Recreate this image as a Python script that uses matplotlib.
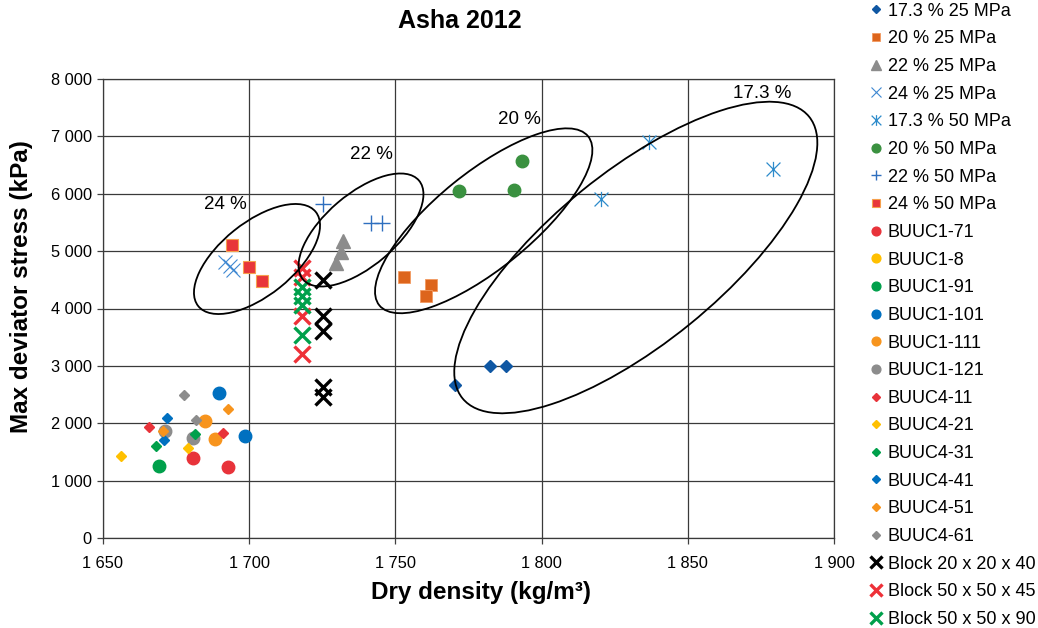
import matplotlib
matplotlib.use('Agg')
import matplotlib.pyplot as plt
from matplotlib.patches import Ellipse
from matplotlib.transforms import ScaledTranslation
from matplotlib.path import Path
from matplotlib.markers import MarkerStyle
from matplotlib.ticker import FuncFormatter

plt.rcParams['font.family'] = ['Liberation Sans', 'DejaVu Sans']

# ---------------- data ----------------
x_173_25 = [1770.4, 1782.5, 1787.8]
y_173_25 = [2658, 2990, 2990]
x_20_25 = [1752.8, 1762.1, 1760.4]
y_20_25 = [4550, 4410, 4223]
x_22_25 = [1732.2, 1731.3, 1729.7]
y_22_25 = [5171, 4979, 4794]
x_24_25 = [1691.6, 1693.5, 1694.6]
y_24_25 = [4818, 4735, 4665]
x_173_50 = [1836.6, 1820.3, 1879.2]
y_173_50 = [6899, 5916, 6440]
x_20_50 = [1793.4, 1771.6, 1790.6]
y_20_50 = [6579, 6044, 6068]
x_22_50 = [1725.1, 1741.7, 1745.4]
y_22_50 = [5824, 5492, 5492]
x_24_50 = [1694.1, 1699.8, 1704.5]
y_24_50 = [5113, 4717, 4485]

x_buuc1_71 = [1680.8, 1692.9]
y_buuc1_71 = [1399, 1232]
x_buuc1_8 = []
y_buuc1_8 = []
x_buuc1_91 = [1669.0]
y_buuc1_91 = [1254]
x_buuc1_101 = [1689.8, 1698.4]
y_buuc1_101 = [2521, 1782]
x_buuc1_111 = [1685.0, 1688.4]
y_buuc1_111 = [2038, 1719]
x_buuc1_121 = [1671.3, 1680.8]
y_buuc1_121 = [1864, 1737]
x_buuc4_11 = [1665.9, 1690.9]
y_buuc4_11 = [1940, 1824]
x_buuc4_21 = [1656.1, 1679.0]
y_buuc4_21 = [1434, 1573]
x_buuc4_31 = [1668.1, 1681.5]
y_buuc4_31 = [1608, 1807]
x_buuc4_41 = [1671.9, 1670.7]
y_buuc4_41 = [2085, 1707]
x_buuc4_51 = [1692.9, 1670.4]
y_buuc4_51 = [2247, 1864]
x_buuc4_61 = [1677.8, 1681.8]
y_buuc4_61 = [2491, 2056]

x_block_20 = [1725.1, 1725.1, 1725.1, 1725.1, 1725.1]
y_block_20 = [4503, 3862, 3600, 2640, 2466]
x_block_45 = [1718.1, 1718.1, 1718.1, 1718.1]
y_block_45 = [4712, 4555, 3874, 3211]
x_block_90 = [1718.1, 1718.1, 1718.1, 1718.1]
y_block_90 = [4380, 4223, 4066, 3543]

series_labels = ['17.3 % 25 MPa', '20 % 25 MPa', '22 % 25 MPa', '24 % 25 MPa',
                 '17.3 % 50 MPa', '20 % 50 MPa', '22 % 50 MPa', '24 % 50 MPa',
                 'BUUC1-71', 'BUUC1-8', 'BUUC1-91', 'BUUC1-101', 'BUUC1-111', 'BUUC1-121',
                 'BUUC4-11', 'BUUC4-21', 'BUUC4-31', 'BUUC4-41', 'BUUC4-51', 'BUUC4-61',
                 'Block 20 x 20 x 40', 'Block 50 x 50 x 45', 'Block 50 x 50 x 90']
series_x = [x_173_25, x_20_25, x_22_25, x_24_25, x_173_50, x_20_50, x_22_50, x_24_50,
            x_buuc1_71, x_buuc1_8, x_buuc1_91, x_buuc1_101, x_buuc1_111, x_buuc1_121,
            x_buuc4_11, x_buuc4_21, x_buuc4_31, x_buuc4_41, x_buuc4_51, x_buuc4_61,
            x_block_20, x_block_45, x_block_90]
series_y = [y_173_25, y_20_25, y_22_25, y_24_25, y_173_50, y_20_50, y_22_50, y_24_50,
            y_buuc1_71, y_buuc1_8, y_buuc1_91, y_buuc1_101, y_buuc1_111, y_buuc1_121,
            y_buuc4_11, y_buuc4_21, y_buuc4_31, y_buuc4_41, y_buuc4_51, y_buuc4_61,
            y_block_20, y_block_45, y_block_90]

ellipse_labels = ['24 %', '22 %', '20 %', '17.3 %']
x_ticks = [1650, 1700, 1750, 1800, 1850, 1900]
y_ticks = [0, 1000, 2000, 3000, 4000, 5000, 6000, 7000, 8000]

# ---------------- styles ----------------
star = MarkerStyle(Path([(-0.5, -0.5), (0.5, 0.5), (-0.5, 0.5), (0.5, -0.5), (0, -0.55), (0, 0.55)],
                        [Path.MOVETO, Path.LINETO, Path.MOVETO, Path.LINETO, Path.MOVETO, Path.LINETO]))

RED, YEL, GRN, BLU, ORG, GRY = '#E8333A', '#FFC000', '#00A04B', '#0070C0', '#F7941D', '#8C8C8C'
styles = [
    dict(marker='D', ms=6.2, mfc='#0F57A3', mec='#0F57A3'),
    dict(marker='s', ms=8.3, mfc='#DD651C', mec='#F29A60', mew=0.6),
    dict(marker='^', ms=9.5, mfc='#8C8C8C', mec='#8C8C8C'),
    dict(marker='x', ms=10, mec='#3F88D2', mew=0.8),
    dict(marker=star, ms=11, mec='#2D8BCB', mew=0.9),
    dict(marker='o', ms=9, mfc='#3A9140', mec='#3A9140'),
    dict(marker='+', ms=11, mec='#2E6FBF', mew=1.0),
    dict(marker='s', ms=8.3, mfc='#E8363A', mec='#F6A04D', mew=0.8),
    dict(marker='o', ms=9, mfc=RED, mec=RED),
    dict(marker='o', ms=9, mfc=YEL, mec=YEL),
    dict(marker='o', ms=9, mfc=GRN, mec=GRN),
    dict(marker='o', ms=9, mfc=BLU, mec=BLU),
    dict(marker='o', ms=9, mfc=ORG, mec=ORG),
    dict(marker='o', ms=9, mfc=GRY, mec=GRY),
    dict(marker='D', ms=5.2, mfc=RED, mec=RED),
    dict(marker='D', ms=5.2, mfc=YEL, mec=YEL),
    dict(marker='D', ms=5.2, mfc=GRN, mec=GRN),
    dict(marker='D', ms=5.2, mfc=BLU, mec=BLU),
    dict(marker='D', ms=5.2, mfc=ORG, mec=ORG),
    dict(marker='D', ms=5.2, mfc=GRY, mec=GRY),
    dict(marker='x', ms=11.5, mec='#000000', mew=2.4),
    dict(marker='x', ms=11.5, mec='#EE3138', mew=2.4),
    dict(marker='x', ms=11.5, mec='#00A04B', mew=2.4),
]

# ellipse geometry in pixels: centre (px), semi-axes, angle
ell_geom = [((257, 259), 75.3, 36.5, 38.7),
            ((361, 230), 76.2, 35.9, 40.5),
            ((483.7, 220.8), 134.3, 48.2, 39.0),
            ((635.8, 257.5), 223.3, 85.8, 39.1)]
ell_label_px = [(225, 205), (371.7, 155), (519, 120), (762.3, 93.3)]

W, H = 1038, 628
fig = plt.figure(figsize=(W / 100, H / 100), dpi=100)
L, R, T, B = 103, 834, 79, 538
ax = fig.add_axes([L / W, 1 - B / H, (R - L) / W, (B - T) / H])
ax.set_xlim(x_ticks[0], x_ticks[-1])
ax.set_ylim(y_ticks[0], y_ticks[-1])
ax.set_xticks(x_ticks)
ax.set_yticks(y_ticks)
fmt = FuncFormatter(lambda v, p: f'{int(v):,}'.replace(',', ' '))
ax.xaxis.set_major_formatter(fmt)
ax.yaxis.set_major_formatter(fmt)
ax.tick_params(labelsize=11.8, direction='out', length=4, width=0.9, color='#404040')
ax.tick_params(axis='x', pad=9)
ax.tick_params(axis='y', pad=4)
ax.grid(True, color='#3a3a3a', lw=0.9)
ax.set_axisbelow(True)
for s in ax.spines.values():
    s.set_color('#3a3a3a')
    s.set_linewidth(0.9)

handles = []
for lab, xs, ys, st in zip(series_labels, series_x, series_y, styles):
    h, = ax.plot(xs, ys, linestyle='none', label=lab, zorder=3, clip_on=False, **st)
    handles.append(h)

def px2data(px, py):
    return ax.transData.inverted().transform(ax.transAxes.transform(((px - L) / (R - L), (B - py) / (B - T))))

for (c, a, b, ang), lab, lp in zip(ell_geom, ellipse_labels, ell_label_px):
    cx, cy = px2data(*c)
    tr = fig.dpi_scale_trans + ScaledTranslation(cx, cy, ax.transData)
    ax.add_patch(Ellipse((0, 0), 2 * a / 100, 2 * b / 100, angle=ang, transform=tr,
                         fill=False, ec='black', lw=1.3, zorder=4))
    tx, ty = px2data(*lp)
    ax.text(tx, ty, lab, ha='center', va='center', fontsize=13.5, zorder=5)

fig.text(459.5 / W, 1 - 21 / H, 'Asha 2012', ha='center', va='center', fontsize=18, fontweight='bold')
fig.text(481 / W, 1 - 592 / H, 'Dry density (kg/m³)', ha='center', va='center', fontsize=17.5, fontweight='bold')
fig.text(22 / W, 1 - 287 / H, 'Max deviator stress (kPa)', ha='center', va='center', rotation=90,
         fontsize=17.5, fontweight='bold')

fig.legend(handles, series_labels, loc='upper left', bbox_to_anchor=(867 / W, 1.0),
           frameon=False, fontsize=13, handlelength=0.7, handletextpad=0.3, labelspacing=0.59,
           borderaxespad=0, borderpad=0.15, markerscale=0.7)

fig.savefig('out.png', dpi=100)
